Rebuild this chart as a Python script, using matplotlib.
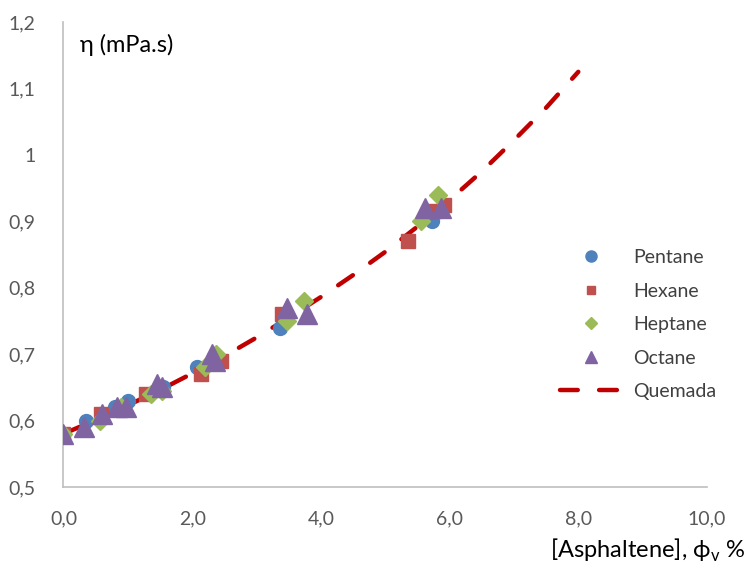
import matplotlib.pyplot as plt
from matplotlib.lines import Line2D
from matplotlib.ticker import FuncFormatter

plt.rcParams['font.family'] = ['Lato', 'DejaVu Sans']

# viscosity vs asphaltene volume fraction for each solvent
pentane_x = [0.0, 0.35, 0.8, 1.0, 1.55, 2.07, 2.43, 3.36, 5.72]
pentane_y = [0.58, 0.60, 0.62, 0.63, 0.65, 0.68, 0.69, 0.74, 0.90]

hexane_x = [0.0, 0.58, 1.28, 2.13, 2.45, 3.40, 5.36, 5.76, 5.92]
hexane_y = [0.58, 0.61, 0.64, 0.67, 0.69, 0.76, 0.87, 0.915, 0.925]

heptane_x = [0.0, 0.56, 0.9, 1.36, 1.53, 2.20, 2.37, 3.48, 3.74, 5.56, 5.82]
heptane_y = [0.58, 0.60, 0.62, 0.64, 0.645, 0.68, 0.70, 0.75, 0.78, 0.90, 0.94]

octane_x = [0.0, 0.32, 0.6, 0.83, 0.97, 1.45, 1.53, 2.30, 2.36, 3.48, 3.79, 5.61, 5.87]
octane_y = [0.58, 0.59, 0.61, 0.62, 0.62, 0.655, 0.65, 0.70, 0.69, 0.77, 0.76, 0.92, 0.92]

# Quemada model curve
quemada_x = [0.0, 0.5, 1.0, 1.5, 2.0, 2.5, 3.0, 3.5, 4.0, 4.5, 5.0, 5.5, 6.0, 6.5, 7.0, 7.5, 8.0]
quemada_y = [0.580, 0.601, 0.623, 0.646, 0.671, 0.697, 0.725, 0.755, 0.786, 0.819, 0.854,
             0.892, 0.932, 0.975, 1.022, 1.071, 1.125]

x_ticks = [0, 2, 4, 6, 8, 10]
y_ticks = [0.5, 0.6, 0.7, 0.8, 0.9, 1.0, 1.1, 1.2]

fig = plt.figure(figsize=(7.52, 5.69), dpi=100)
ax = fig.add_axes([63.5 / 752, 1 - 487 / 569, (707 - 63.5) / 752, (487 - 22) / 569])

red = '#C00000'
ax.plot(quemada_x, quemada_y, color=red, lw=3.2, dashes=(4.0, 4.8),
        dash_capstyle='round', zorder=2)
ax.plot(pentane_x, pentane_y, 'o', color='#4F81BD', ms=10, ls='none', zorder=3)
ax.plot(hexane_x, hexane_y, 's', color='#C0504D', ms=9.5, ls='none', zorder=3)
ax.plot(heptane_x, heptane_y, 'D', color='#9BBB59', ms=9, ls='none', zorder=3)
ax.plot(octane_x, octane_y, '^', color='#8064A2', ms=14, ls='none', zorder=3)

ax.set_xlim(0, 10)
ax.set_ylim(0.5, 1.2)
ax.set_xticks(x_ticks)
ax.set_yticks(y_ticks)
ax.xaxis.set_major_formatter(FuncFormatter(lambda v, p: f'{v:.1f}'.replace('.', ',')))
ax.yaxis.set_major_formatter(FuncFormatter(
    lambda v, p: '1' if abs(v - 1) < 1e-9 else f'{v:.1f}'.replace('.', ',')))
ax.tick_params(length=0, labelsize=14, colors='#595959')
ax.tick_params(axis='x', pad=17)
ax.tick_params(axis='y', pad=20)

for side in ['top', 'right']:
    ax.spines[side].set_visible(False)
for side in ['left', 'bottom']:
    ax.spines[side].set_color('#BFBFBF')
    ax.spines[side].set_linewidth(1.2)

handles = [
    Line2D([], [], marker='o', color='#4F81BD', ls='none', ms=8),
    Line2D([], [], marker='s', color='#C0504D', ls='none', ms=6),
    Line2D([], [], marker='D', color='#9BBB59', ls='none', ms=6),
    Line2D([], [], marker='^', color='#8064A2', ls='none', ms=9),
    Line2D([], [], color=red, lw=3.2, dashes=(4.0, 4.8), dash_capstyle='round'),
]
labels = ['Pentane', 'Hexane', 'Heptane', 'Octane', 'Quemada']
leg = fig.legend(handles, labels, loc='upper left',
                 bbox_to_anchor=(560 / 752, 1 - 249 / 569),
                 frameon=False, fontsize=14, handlelength=3.2, handletextpad=0.55,
                 labelspacing=0.85, borderpad=0, borderaxespad=0)
for t in leg.get_texts():
    t.set_color('#404040')

fig.text(80 / 752, 1 - 45 / 569, 'η (mPa.s)', fontsize=17, color='#000000', va='center')
fig.text(745 / 752, 1 - 550 / 569, '[Asphaltene], ϕ$_\\mathregular{v}$ %', fontsize=17,
         color='#000000', ha='right', va='center')

fig.savefig('out.png', dpi=100)
